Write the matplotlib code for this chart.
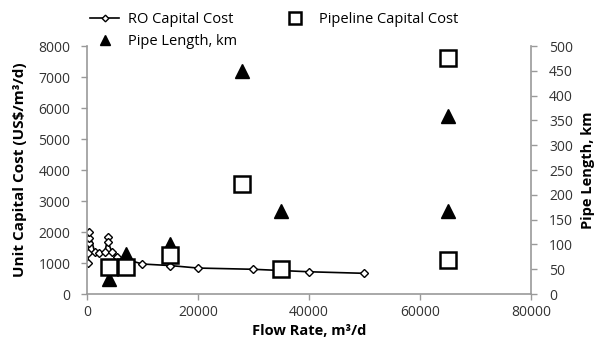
import matplotlib.pyplot as plt

plt.rcParams['font.family'] = ['Open Sans', 'DejaVu Sans']

# RO capital cost (US$/m3/d) vs flow rate
ro_flow = [200, 200, 300, 300, 400, 1400, 2200, 3200, 3800, 3800, 4500, 5400, 10000, 15000, 20000, 30000, 40000, 50000]
ro_cost = [1000, 1320, 1650, 1800, 2000, 1350, 1320, 1350, 1840, 1680, 1350, 1200, 970, 920, 840, 800, 720, 670]

# Pipeline capital cost (US$/m3/d)
pipe_flow = [4000, 7000, 15000, 28000, 35000, 65000, 65000]
pipe_cost = [870, 870, 1250, 3550, 800, 7600, 1100]

# Pipe length (km), right axis
len_flow = [4000, 7000, 15000, 28000, 35000, 65000, 65000]
pipe_len = [30, 80, 100, 450, 168, 358, 168]

fig = plt.figure(figsize=(6.02, 3.46), dpi=100)
ax = fig.add_axes([0.1445, 0.150, 0.7375, 0.717])
ax2 = ax.twinx()

l1, = ax.plot(ro_flow, ro_cost, color='black', lw=1.2, marker='D', ms=4.5,
              mfc='white', mec='black', mew=1.0, label='RO Capital Cost')
l2, = ax.plot(pipe_flow, pipe_cost, ls='none', marker='s', ms=11,
              mfc='white', mec='black', mew=1.8, label='Pipeline Capital Cost')
l3, = ax2.plot(len_flow, pipe_len, ls='none', marker='^', ms=10,
               color='black', label='Pipe Length, km')
ax.set_zorder(ax2.get_zorder() + 1)
ax.patch.set_visible(False)

ax.set_xlim(0, 80000)
ax.set_ylim(0, 8000)
ax2.set_ylim(0, 500)
ax.set_xticks(range(0, 80001, 20000))
ax.set_yticks(range(0, 8001, 1000))
ax2.set_yticks(range(0, 501, 50))

for a in (ax, ax2):
    for s in a.spines.values():
        s.set_visible(False)
    a.tick_params(colors='#333333', labelsize=10, length=4, width=1, color='#999999')
ax.tick_params(axis='y', pad=8)
ax2.tick_params(axis='y', pad=9)
ax.spines['left'].set_visible(True)
ax.spines['bottom'].set_visible(True)
ax2.spines['right'].set_visible(True)
for s in (ax.spines['left'], ax.spines['bottom'], ax2.spines['right']):
    s.set_color('#999999')
    s.set_linewidth(1.2)

ax.set_xlabel('Flow Rate, m\u00b3/d', fontsize=10.5, fontweight='bold', labelpad=3)
ax.set_ylabel('Unit Capital Cost (US$/m\u00b3/d)', fontsize=11, fontweight='bold', labelpad=8)
ax2.set_ylabel('Pipe Length, km', fontsize=10.5, fontweight='bold', labelpad=6)

fig.legend(handles=[l1, l3, l2], loc='upper left', bbox_to_anchor=(0.135, 0.99),
           ncol=2, frameon=False, fontsize=10.5, columnspacing=3.0,
           handlelength=2.0, handletextpad=0.6, borderaxespad=0.2,
           labelspacing=0.45, markerscale=0.75)

fig.savefig('out.png', dpi=100)
